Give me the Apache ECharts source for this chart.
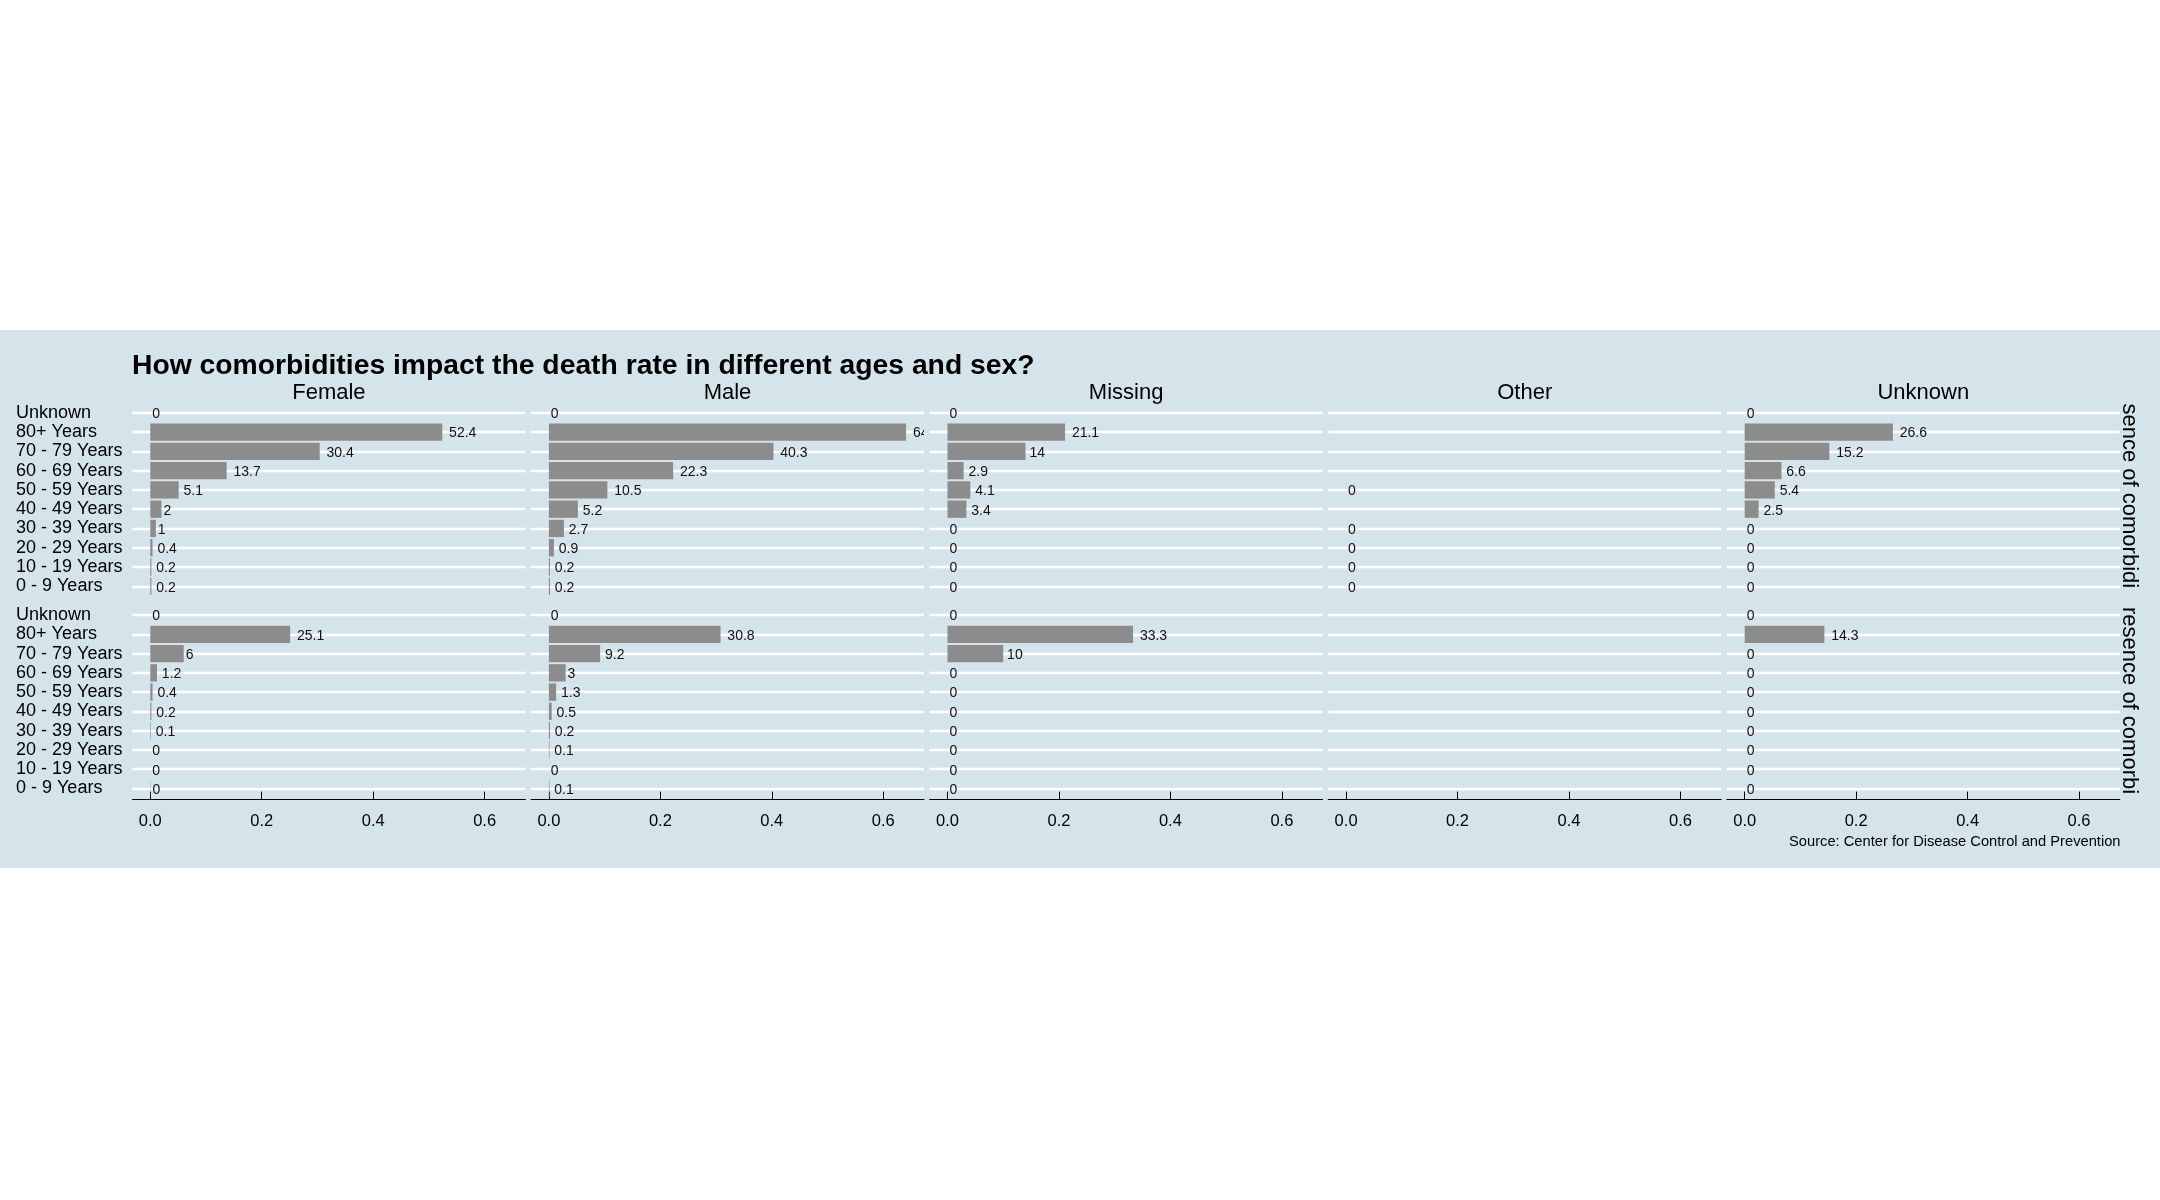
<!DOCTYPE html>
<html>
<head>
<meta charset="utf-8">
<script src="https://cdn.jsdelivr.net/npm/echarts@6/dist/echarts.min.js"></script>
<style>
  html, body { margin: 0; padding: 0; background: #ffffff; }
  #chart { width: 2160px; height: 1200px; }
</style>
</head>
<body>
<div id="chart"></div>
<script>
// ---------------- DATA ----------------
const chartTitle = 'How comorbidities impact the death rate in different ages and sex?';
const sourceText = 'Source: Center for Disease Control and Prevention';
const sexCategories = ['Female', 'Male', 'Missing', 'Other', 'Unknown'];
const ageGroups = ['Unknown', '80+ Years', '70 - 79 Years', '60 - 69 Years', '50 - 59 Years',
                   '40 - 49 Years', '30 - 39 Years', '20 - 29 Years', '10 - 19 Years', '0 - 9 Years'];
// visible (clipped) parts of the right-hand row strips
const rowStrips = ['sence of comorbidi', 'resence of comorbi'];
const xTicks = [0, 0.2, 0.4, 0.6];
const xMin = -0.0321;
const xMax = 0.6731;

// death rate (fraction), top row of panels
const femaleTop  = [0, 0.524, 0.304, 0.137, 0.051, 0.020, 0.010, 0.004, 0.002, 0.002];
const maleTop    = [0, 0.641, 0.403, 0.223, 0.105, 0.052, 0.027, 0.009, 0.002, 0.002];
const missingTop = [0, 0.211, 0.140, 0.029, 0.041, 0.034, 0, 0, 0, 0];
const otherTop   = [null, null, null, null, 0, null, 0, 0, 0, 0];
const unknownTop = [0, 0.266, 0.152, 0.066, 0.054, 0.025, 0, 0, 0, 0];
// bottom row of panels
const femaleBottom  = [0, 0.251, 0.060, 0.012, 0.004, 0.002, 0.001, 0, 0, 0.0004];
const maleBottom    = [0, 0.308, 0.092, 0.030, 0.013, 0.005, 0.002, 0.001, 0, 0.001];
const missingBottom = [0, 0.333, 0.100, 0, 0, 0, 0, 0, 0, 0];
const otherBottom   = [null, null, null, null, null, null, null, null, null, null];
const unknownBottom = [0, 0.143, 0, 0, 0, 0, 0, 0, 0, 0];

const topRow = [femaleTop, maleTop, missingTop, otherTop, unknownTop];
const bottomRow = [femaleBottom, maleBottom, missingBottom, otherBottom, unknownBottom];

// ---------------- LAYOUT / STYLE ----------------
const FONT = '"Liberation Sans", Arial, sans-serif';
const BG = '#d5e4eb';
const BAR = '#8c8c8c';
const panelLeft0 = 132.4, panelStep = 398.6, panelWidth = 393;
const rowTops = [403.2, 605.4], rowHeight = 192.7;

const measureCanvas = document.createElement('canvas').getContext('2d');
measureCanvas.font = '14px ' + FONT;
function fmtPct(v) { return String(Math.round(v * 1000) / 10); }

const grids = [], xAxes = [], yAxes = [], series = [];
[topRow, bottomRow].forEach(function (row, r) {
  row.forEach(function (vals, c) {
    const gi = grids.length;
    grids.push({ left: panelLeft0 + c * panelStep, width: panelWidth, top: rowTops[r], height: rowHeight, containLabel: false });
    const isBottom = r === 1;
    xAxes.push({
      type: 'value', gridIndex: gi, min: xMin, max: xMax,
      show: isBottom, offset: 1.5,
      axisLine: { show: true, onZero: false, lineStyle: { color: '#000', width: 1 } },
      axisTick: { show: true, inside: true, length: 8, customValues: xTicks, lineStyle: { color: '#000', width: 1 } },
      axisLabel: { show: true, customValues: xTicks, formatter: function (v) { return Number(v).toFixed(1); },
                   fontFamily: FONT, fontSize: 16.5, color: '#000', margin: 13 },
      splitLine: { show: false }
    });
    yAxes.push({
      type: 'category', gridIndex: gi, data: ageGroups, inverse: true,
      axisLine: { show: false }, axisTick: { show: false },
      axisLabel: { show: c === 0, interval: 0, align: 'left', margin: panelLeft0 - 16, padding: [5, 0, 0, 0],
                   fontFamily: FONT, fontSize: 18, color: '#000' },
      splitLine: { show: true, interval: 0, alignWithLabel: true, lineStyle: { color: '#ffffff', width: 2.3 } }
    });
    series.push({
      type: 'bar', xAxisIndex: gi, yAxisIndex: gi, data: vals, barWidth: '90%',
      itemStyle: { color: BAR }, z: 2, silent: true, label: { show: false }
    });
    const labelData = [];
    vals.forEach(function (v, i) { if (v !== null) labelData.push([v, i]); });
    series.push({
      type: 'custom', xAxisIndex: gi, yAxisIndex: gi, data: labelData, clip: true, z: 3, silent: true,
      renderItem: function (params, api) {
        const v = api.value(0);
        const p = api.coord([v, api.value(1)]);
        const txt = fmtPct(v);
        const w = measureCanvas.measureText(txt).width;
        return {
          type: 'text', x: p[0] + 0.25 * w, y: p[1] + 1.5,
          style: { text: txt, fill: '#111', font: '14px ' + FONT, align: 'left', verticalAlign: 'middle' }
        };
      }
    });
  });
});

const graphics = [
  { type: 'rect', z: -100, silent: true, shape: { x: 0, y: 330, width: 2160, height: 538 }, style: { fill: BG } },
  { type: 'text', x: 132, y: 366.5, silent: true,
    style: { text: chartTitle, font: 'bold 28.3px ' + FONT, fill: '#000', align: 'left', verticalAlign: 'middle' } },
  { type: 'text', x: 2120.5, y: 842, silent: true,
    style: { text: sourceText, font: '14.7px ' + FONT, fill: '#000', align: 'right', verticalAlign: 'middle' } }
];
sexCategories.forEach(function (s, c) {
  graphics.push({ type: 'text', x: panelLeft0 + c * panelStep + panelWidth / 2, y: 393, silent: true,
    style: { text: s, font: '22px ' + FONT, fill: '#000', align: 'center', verticalAlign: 'middle' } });
});
const stripStarts = [403.5, 607];
rowStrips.forEach(function (s, r) {
  graphics.push({ type: 'text', x: 2128.6, y: stripStarts[r], rotation: -Math.PI / 2, silent: true,
    style: { text: s, font: '22px ' + FONT, fill: '#000', align: 'left', verticalAlign: 'middle' } });
});

const chart = echarts.init(document.getElementById('chart'), null, { renderer: 'canvas' });
chart.setOption({
  backgroundColor: '#ffffff',
  animation: false,
  grid: grids,
  xAxis: xAxes,
  yAxis: yAxes,
  series: series,
  graphic: graphics
});
</script>
</body>
</html>
